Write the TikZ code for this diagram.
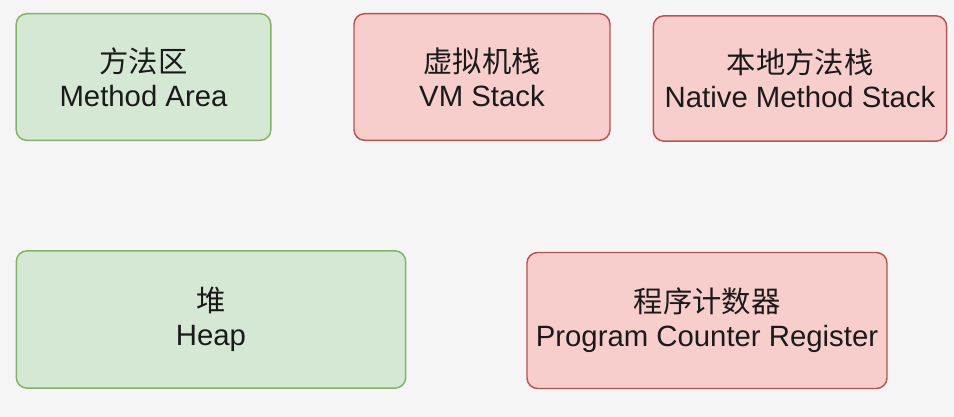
\documentclass[tikz,border=0pt]{standalone}
\usepackage{fontspec}
\setmainfont{Liberation Sans}
\newfontfamily\cjk{Noto Sans CJK SC}

\definecolor{fonsgris}{HTML}{F5F5F5}
\definecolor{verdfons}{HTML}{D5E8D4}
\definecolor{verdvora}{HTML}{82B366}
\definecolor{vermellfons}{HTML}{F8CECC}
\definecolor{vermellvora}{HTML}{B85450}
\definecolor{text}{HTML}{1A1A1A}

\tikzset{
  zona/.style={rounded corners=8pt, line width=1.1pt, align=center, inner sep=0pt,
    text=text, font=\fontsize{22}{25.5}\selectfont},
  compartida/.style={zona, fill=verdfons, draw=verdvora},
  privada/.style={zona, fill=vermellfons, draw=vermellvora}
}

\begin{document}
\begin{tikzpicture}[x=0.75pt, y=-0.75pt]
        % Fons i marges
        \fill[fonsgris] (0,0) rectangle (954,417);
        \useasboundingbox (0,0) rectangle (954,417);
        % Zones compartides entre fils (verd)
        \node[compartida, minimum width=191pt, minimum height=95pt] (metode) at (143.5,77)
             {{\cjk 方法区}\\Method Area};
        \node[compartida, minimum width=292pt, minimum height=103pt] (heap) at (211,319.5)
             {{\cjk 堆}\\Heap};
        % Zones privades de cada fil (vermell)
        \node[privada, minimum width=192pt, minimum height=95pt] (vmstack) at (482,77)
             {{\cjk 虚拟机栈}\\VM Stack};
        \node[privada, minimum width=220pt, minimum height=94pt] (natiu) at (800,78.5)
             {{\cjk 本地方法栈}\\Native Method Stack};
        \node[privada, minimum width=270pt, minimum height=102pt] (pc) at (707,320.5)
             {{\cjk 程序计数器}\\Program Counter Register};
    \end{tikzpicture}
\end{document}
